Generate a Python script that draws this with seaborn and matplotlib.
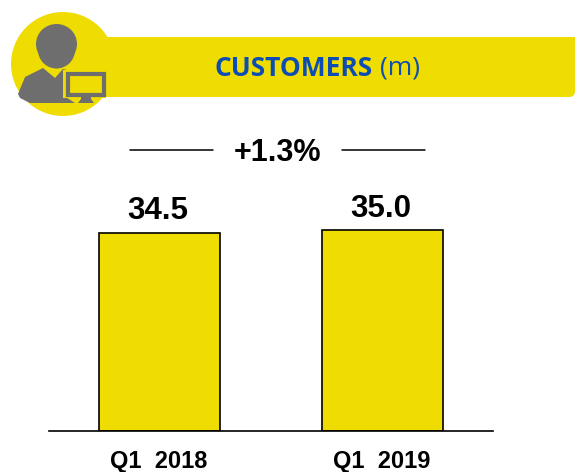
import matplotlib
matplotlib.use("Agg")
import matplotlib.pyplot as plt
from matplotlib.patches import Circle, Ellipse, Polygon, FancyBboxPatch, Rectangle
import pandas as pd
import seaborn as sns

categories = ["Q1 2018", "Q1 2019"]
customers = [34.5, 35.0]
value_labels = ["34.5", "35.0"]
growth_label = "+1.3%"

YELLOW = "#EFDC00"
GREY = "#6E6E6E"
BLUE = "#0B4DB5"
W, H = 575, 472

sns.set_theme(style="white")
plt.rcParams["font.family"] = ["Liberation Sans", "DejaVu Sans"]

fig = plt.figure(figsize=(W / 100, H / 100), dpi=100, facecolor="white")

# Bars
ax = fig.add_axes([49 / W, (H - 431) / H, (493 - 49) / W, (431 - 140) / H])
df = pd.DataFrame({"period": categories, "customers": customers})
sns.barplot(data=df, x="period", y="customers", color=YELLOW, saturation=1,
            width=0.543, edgecolor="black", linewidth=1.2, ax=ax)
ax.set_xlim(-0.494, 1.497)
ax.set_ylim(0, 291 / 5.73)
ax.set_xlabel("")
ax.set_ylabel("")
ax.set_yticks([])
ax.tick_params(axis="x", length=0, pad=13.5)
ax.set_xticks(range(len(categories)))
ax.set_xticklabels([c.replace(" ", "  ") for c in categories],
                   fontsize=17, fontweight="bold", color="black")
for s in ["top", "left", "right"]:
    ax.spines[s].set_visible(False)
ax.spines["bottom"].set_color("black")
ax.spines["bottom"].set_linewidth(1.2)
ax.patch.set_alpha(0)
for i, (v, lab) in enumerate(zip(customers, value_labels)):
    ax.annotate(lab, (i, v), xytext=(-1, 5), textcoords="offset points",
                ha="center", va="bottom", fontsize=22.5, fontweight="bold", color="black")

# Decoration layer in pixel coordinates
ov = fig.add_axes([0, 0, 1, 1], zorder=-1)
ov.set_xlim(0, W)
ov.set_ylim(H, 0)
ov.axis("off")

ov.add_patch(Rectangle((100, 37), 455, 60, fc=YELLOW, ec="none"))
ov.add_patch(FancyBboxPatch((540, 42), 30, 50, boxstyle="round,pad=5,rounding_size=6",
                            fc=YELLOW, ec="none"))
ov.add_patch(Rectangle((540, 37), 35, 20, fc=YELLOW, ec="none"))
circle = Circle((63, 64), 52, fc=YELLOW, ec="none")
ov.add_patch(circle)
circle.set_clip_path(Rectangle((11, 0), 200, 200, transform=ov.transData))
ov.add_patch(Ellipse((56.5, 44), 41, 40, fc=GREY, ec="none"))
ov.add_patch(Ellipse((56.5, 50), 37, 37, fc=GREY, ec="none"))
ov.add_patch(Polygon([(18, 94), (25, 77), (43, 68), (55, 78), (63, 69), (74, 72),
                      (64, 76), (64, 96), (75, 103), (30, 103), (20, 98)],
                     closed=True, fc=GREY, ec="none"))
ov.add_patch(Rectangle((62.5, 70), 43.5, 28, fc=YELLOW, ec="none"))
ov.add_patch(Rectangle((68, 74), 36, 21, fc=YELLOW, ec=GREY, lw=3))
ov.add_patch(Polygon([(81, 95), (91, 95), (91, 99), (94, 103), (78, 103), (81, 99)],
                     closed=True, fc=GREY, ec="none"))

ov.text(215, 68, "CUSTOMERS", fontsize=19, fontweight="bold", color=BLUE,
        family="Open Sans", ha="left", va="center")
ov.text(380, 68, "(m)", fontsize=19, color=BLUE, family="Open Sans",
        ha="left", va="center")

ov.plot([130, 213], [150, 150], color="black", lw=1.1)
ov.plot([342, 425], [150, 150], color="black", lw=1.1)
ov.text(277.5, 153, growth_label, fontsize=22, fontweight="bold", color="black",
        ha="center", va="center")

fig.savefig("out.png", dpi=100, facecolor="white")
